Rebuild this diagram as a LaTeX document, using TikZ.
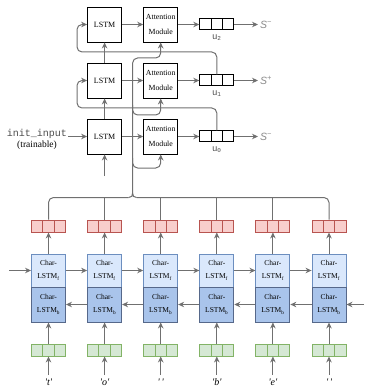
\documentclass[tikz,border=0pt]{standalone}
\usepackage{fontspec}
\setmainfont{Liberation Serif}
\setsansfont{Liberation Sans}
\setmonofont{Liberation Mono}
\usetikzlibrary{arrows.meta}

\definecolor{wire}{HTML}{707070}
\definecolor{redfill}{HTML}{F8CECC}
\definecolor{redline}{HTML}{B85450}
\definecolor{grnfill}{HTML}{D5E8D4}
\definecolor{grnline}{HTML}{82B366}
\definecolor{fwdfill}{HTML}{DAE8FC}
\definecolor{fwdline}{HTML}{6C8EBF}
\definecolor{bwdfill}{HTML}{A9C4EB}
\definecolor{bwdline}{HTML}{56688A}
\definecolor{lbl}{HTML}{8A8A8A}

\tikzset{
  wireline/.style={draw=wire, line width=1pt},
  conn/.style={wireline, -{Stealth[length=6pt,width=5.5pt]}},
  blockbox/.style={draw=black, line width=0.9pt, fill=white, minimum width=34pt,
    minimum height=35pt, inner sep=0pt, align=center},
  lstmbox/.style={blockbox, font=\fontsize{8}{10}\selectfont},
  attbox/.style={blockbox, font=\fontsize{7.8}{15}\selectfont},
  tripcells/.style={minimum width=34pt, inner sep=0pt,
    path picture={
      \draw[line width=0.9pt]
        ([xshift=-5.67pt]path picture bounding box.north) -- ([xshift=-5.67pt]path picture bounding box.south)
        ([xshift=5.67pt]path picture bounding box.north) -- ([xshift=5.67pt]path picture bounding box.south);}},
  uvec/.style={tripcells, draw=black, line width=1pt, minimum height=11pt},
  redvec/.style={tripcells, draw=redline, fill=redfill, line width=0.9pt, minimum height=12pt},
  grnvec/.style={tripcells, draw=grnline, fill=grnfill, line width=0.9pt, minimum height=12pt},
  charbox/.style={minimum width=34pt, inner sep=0pt, align=center, line width=0.9pt,
    font=\fontsize{7.5}{13}\selectfont},
  fwdbox/.style={charbox, draw=fwdline, fill=fwdfill, minimum height=33pt},
  bwdbox/.style={charbox, draw=bwdline, fill=bwdfill, minimum height=35pt},
  ulabel/.style={font=\ttfamily\fontsize{9}{10}\selectfont, text=black!70},
  slabel/.style={font=\sffamily\itshape\fontsize{10.5}{11}\selectfont, text=lbl, inner sep=2pt},
  chlabel/.style={font=\itshape\fontsize{10}{11}\selectfont},
}

\begin{document}
\begin{tikzpicture}[x=1pt, y=-1pt]
\useasboundingbox (0,0) rectangle (364,390);

% ---------- decoder: LSTM -> attention -> output vector ----------
\foreach \i/\y in {0/136.5, 1/80.5, 2/24.5} {
  \node[lstmbox] (lstm\i) at (104.6,\y) {LSTM};
  \node[attbox] (att\i) at (160.7,\y) {Attention\\Module};
  \node[uvec] (u\i) at (216.8,\y) {};
  \node[ulabel, anchor=north] (ul\i) at ([yshift=-1pt]u\i.south) {u\textsubscript{\i}};
  \draw[conn] (lstm\i.east) -- (att\i.west);
  \draw[conn] (att\i.east) -- (u\i.west);
}
\node[slabel, anchor=west] (s2) at (258,24.5) {S\textsuperscript{−}};
\node[slabel, anchor=west] (s1) at (258,80.5) {S\textsuperscript{+}};
\node[slabel, anchor=west] (s0) at (258,136.5) {S\textsuperscript{−}};
\foreach \i in {0,1,2} \draw[conn] (u\i.east) -- (s\i.west);

% initial input
\node[align=center, inner sep=1pt] (init) at (37,139)
  {\ttfamily\fontsize{10}{12}\selectfont\color{black!70}init\_input\\[-1pt]
   \fontsize{9.5}{12}\selectfont(trainable)};
\draw[conn] (init.east |- lstm0.west) -- (lstm0.west);

% vertical flow between LSTM steps
\coordinate (lstmin) at (104.6,176);
\draw[conn] (lstmin) -- (lstm0.south);
\draw[conn] (lstm0.north) -- (lstm1.south);
\draw[conn] (lstm1.north) -- (lstm2.south);

% feedback of previous output into next LSTM step
\coordinate (fb0) at (77,108);
\coordinate (fb1) at (77,52);
\draw[conn, rounded corners=5pt] (u0.north) |- (fb0) |- (lstm1.west);
\draw[conn, rounded corners=5pt] (u1.north) |- (fb1) |- (lstm2.west);

% encoder states fed to every attention module
\coordinate (tip) at (132.6,193);
\coordinate (j2) at (132.6,58);
\coordinate (j1) at (132.6,115);
\coordinate (j0) at (132.6,168);
\draw[conn, rounded corners=5pt] (tip) -- (j2) -| (att2.south);
\draw[conn, rounded corners=5pt] ([yshift=10pt]j1) -- (j1) -| (att1.south);
\draw[conn, rounded corners=5pt] ([yshift=10pt]j0) -- (j0) -| (att0.south);

% ---------- character encoder ----------
\foreach \k/\x/\c in {1/48.5/t, 2/104.6/o, 3/160.7/{\,}, 4/216.8/b, 5/272.9/e, 6/329/{\,}} {
  \node[redvec] (red\k) at (\x,226) {};
  \node[fwdbox] (fwd\k) at (\x,270.5) {Char-\\LSTM\textsubscript{f}};
  \node[bwdbox] (bwd\k) at (\x,304.5) {Char-\\LSTM\textsubscript{b}};
  \node[grnvec] (grn\k) at (\x,350) {};
  \node[chlabel] (ch\k) at (\x,382) {\textquotesingle\c\textquotesingle};
  \draw[conn] (fwd\k.north) -- (red\k.south);
  \draw[conn] (grn\k.north) -- (bwd\k.south);
  \draw[conn] (ch\k.north) -- (grn\k.south);
}
\coordinate (fwdin) at (9,270.5);
\coordinate (bwdin) at (364,304.5);
\draw[conn] (fwdin) -- (fwd1.west);
\draw[conn] (bwdin) -- (bwd6.east);
\foreach \a/\b in {1/2, 2/3, 3/4, 4/5, 5/6} {
  \draw[conn] (fwd\a.east) -- (fwd\b.west);
  \draw[conn] (bwd\b.west) -- (bwd\a.east);
}

% brace gathering all character states
\coordinate (brl) at (48.5,197.5);
\coordinate (brr) at (329,197.5);
\draw[wireline, rounded corners=5pt] (red1.north) |- (128.6,197.5);
\draw[wireline, rounded corners=5pt] (red6.north) |- (136.6,197.5);
\draw[wireline] (128.6,197.5) .. controls (131.6,197.5) and (132.6,196) .. (tip)
                (136.6,197.5) .. controls (133.6,197.5) and (132.6,196) .. (tip);
\foreach \k in {2,3,4,5} \draw[wireline] (red\k.north) -- (red\k.north |- brl);
\end{tikzpicture}
\end{document}
